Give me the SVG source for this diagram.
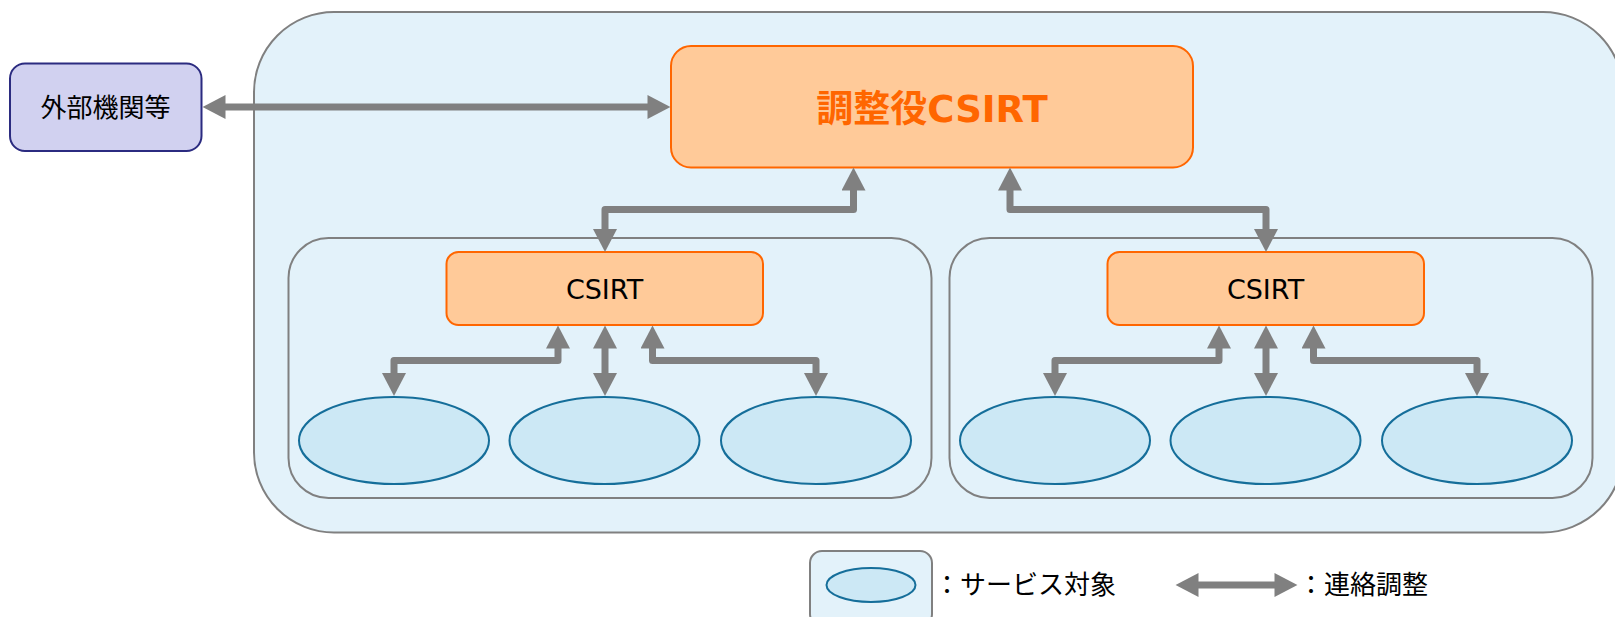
<svg xmlns="http://www.w3.org/2000/svg" width="1615" height="617" viewBox="0 0 1615 617">
<style>
.container{fill:#E3F2FA;stroke:#808080;stroke-width:2}
.csirt{fill:#FFCA99;stroke:#FF6600;stroke-width:2}
.ext{fill:#D1D1F0;stroke:#2B2B80;stroke-width:2}
.target{fill:#CCE8F5;stroke:#156E9A;stroke-width:2}
.conn{fill:none;stroke:#808080;stroke-width:7;stroke-linejoin:round;marker-start:url(#ah);marker-end:url(#ah)}
.cjk{font-family:"Noto Sans CJK JP","DejaVu Sans",sans-serif;fill:#000}
.lat{font-family:"DejaVu Sans","Noto Sans CJK JP",sans-serif;fill:#000}
</style>
<defs>
<marker id="ah" markerUnits="userSpaceOnUse" markerWidth="24" markerHeight="24" viewBox="0 0 22 23" refX="0.5" refY="11.5" orient="auto-start-reverse">
<path d="M0,0 L22,11.5 L0,23 z" fill="#808080"/>
</marker>
</defs>

<g id="outer-container">
<rect class="container" x="254" y="12" width="1369" height="520.5" rx="80" ry="80"/>
</g>
<g id="sub-container-left">
<rect class="container" x="288.5" y="238" width="643" height="260" rx="40" ry="40"/>
</g>
<g id="sub-container-right">
<rect class="container" x="949.5" y="238" width="643" height="260" rx="40" ry="40"/>
</g>

<g id="external">
<rect class="ext" x="10" y="63.5" width="191.5" height="87.5" rx="15" ry="15"/>
<text class="cjk" x="105.5" y="117" font-size="26" text-anchor="middle">外部機関等</text>
</g>

<g id="coordinator-csirt">
<rect class="csirt" x="671" y="46" width="522" height="121.5" rx="20" ry="20"/>
<text x="932" y="121.5" font-size="37" font-weight="bold" text-anchor="middle" fill="#FF6600" font-family="DejaVu Sans, Noto Sans CJK JP, sans-serif"><tspan font-family="Noto Sans CJK JP, sans-serif">調整役</tspan>CSIRT</text>
</g>

<g id="csirt-left">
<rect class="csirt" x="446.5" y="252" width="316.5" height="73" rx="12" ry="12"/>
<text class="lat" x="604.5" y="299" font-size="27" text-anchor="middle">CSIRT</text>
</g>
<g id="csirt-right">
<rect class="csirt" x="1107.5" y="252" width="316.5" height="73" rx="12" ry="12"/>
<text class="lat" x="1265.5" y="299" font-size="27" text-anchor="middle">CSIRT</text>
</g>

<g id="target-l1"><ellipse class="target" cx="394" cy="440.5" rx="95" ry="43.5"/></g>
<g id="target-l2"><ellipse class="target" cx="604.5" cy="440.5" rx="95" ry="43.5"/></g>
<g id="target-l3"><ellipse class="target" cx="816" cy="440.5" rx="95" ry="43.5"/></g>
<g id="target-r1"><ellipse class="target" cx="1055" cy="440.5" rx="95" ry="43.5"/></g>
<g id="target-r2"><ellipse class="target" cx="1265.5" cy="440.5" rx="95" ry="43.5"/></g>
<g id="target-r3"><ellipse class="target" cx="1477" cy="440.5" rx="95" ry="43.5"/></g>

<g id="connectors">
<path class="conn" d="M225,107 H648"/>
<path class="conn" d="M605,229.5 V209.5 H853.5 V190"/>
<path class="conn" d="M1010,190 V209.5 H1266 V229.5"/>
<path class="conn" d="M394,373.5 V360.5 H558 V348"/>
<path class="conn" d="M605,348 V373.5"/>
<path class="conn" d="M652.5,348 V360.5 H816 V373.5"/>
<path class="conn" d="M1055,373.5 V360.5 H1219 V348"/>
<path class="conn" d="M1266,348 V373.5"/>
<path class="conn" d="M1313.5,348 V360.5 H1477 V373.5"/>
</g>

<g id="legend">
<rect class="container" x="810" y="551" width="122" height="75" rx="12" ry="12"/>
<ellipse class="target" cx="871" cy="585" rx="44.5" ry="17"/>
<text class="cjk" x="934" y="594" font-size="26">：サービス対象</text>
<path class="conn" d="M1198,585 H1275"/>
<text class="cjk" x="1298" y="594" font-size="26">：連絡調整</text>
</g>
</svg>
